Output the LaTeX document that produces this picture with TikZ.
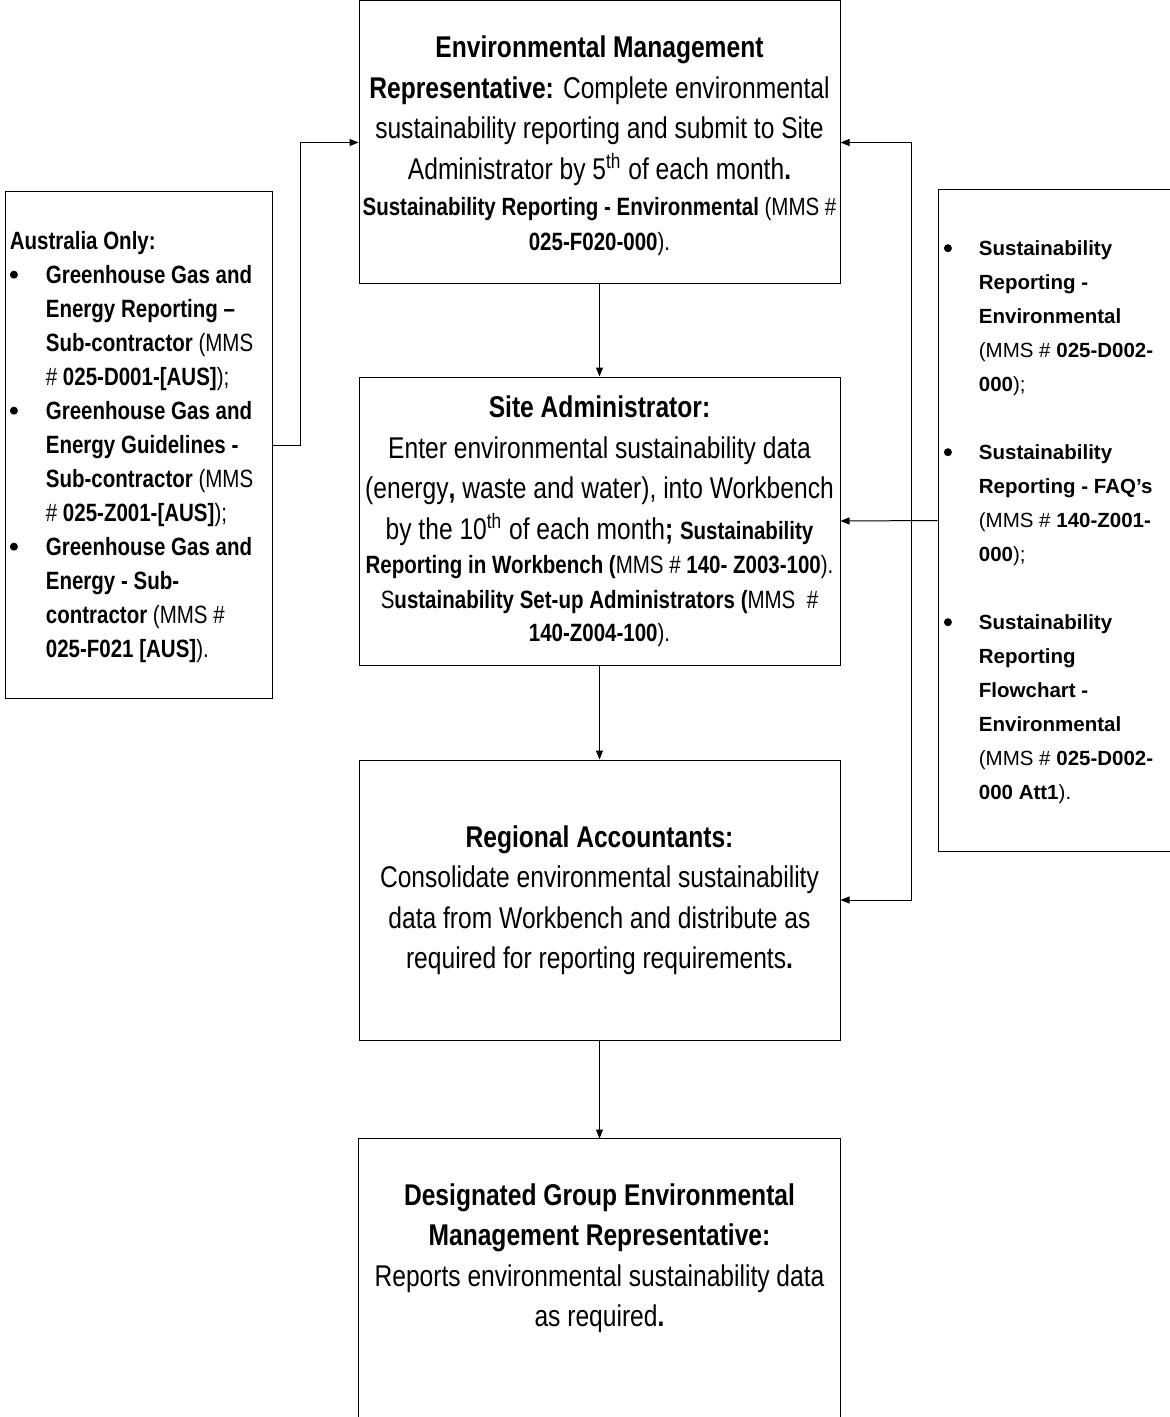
\documentclass[tikz,border=0pt]{standalone}
\usepackage{fontspec}
\setmainfont{Liberation Sans}[FakeStretch=0.82]
\newfontfamily\widefont{Liberation Sans}
\usetikzlibrary{arrows.meta}
\newcommand{\mainsz}{\fontsize{15}{20.25}\selectfont}
\newcommand{\smsz}{\fontsize{12.5}{17.5}\selectfont}
\newcommand{\bdot}[1]{\raisebox{#1}{\tikz\fill[black] (0,0) circle[radius=2pt];}}
\newcommand{\lbul}{\makebox[18pt][l]{\bdot{2.4pt}}}
\newcommand{\lind}{\hspace*{18pt}}
\newcommand{\rbul}{\makebox[16.5pt][l]{\hspace*{-1pt}\bdot{1.8pt}}}
\newcommand{\rind}{\hspace*{16.5pt}}
\begin{document}
\begin{tikzpicture}[x=0.5pt,y=-0.5pt,
  boxline/.style={draw=black, line width=0.5pt},
  mainbox/.style={boxline, align=center, minimum width=240.5pt, inner sep=0pt, font=\mainsz},
  sidebox/.style={boxline, inner sep=0pt},
  sidetext/.style={align=left, inner sep=0pt, anchor=west},
  arr/.style={line width=0.5pt, -{Triangle[length=4.5pt,width=3.5pt]}}]
\useasboundingbox (0,0) rectangle (1170,1417);

% main column
\node[mainbox, minimum height=141.5pt] (tbox) at (599.5,142.5) {%
\rule{0pt}{14pt}\textbf{Environmental Management}\\
\textbf{Representative:} Complete environmental\\
sustainability reporting and submit to Site\\
Administrator by 5\textsuperscript{th} of each month\textbf{.}\\[-2.25pt]
{\smsz\textbf{Sustainability Reporting - Environmental} (MMS \#}\\[-2.75pt]
{\smsz\textbf{025-F020-000}).}};

\node[mainbox, minimum height=144pt] (sbox) at (599.5,521) {%
\textbf{Site Administrator:}\\
Enter environmental sustainability data\\
(energy\textbf{,} waste and water), into Workbench\\
by the 10\textsuperscript{th} of each month\textbf{;} {\smsz\textbf{Sustainability}}\\[-3.25pt]
{\smsz\textbf{Reporting in Workbench (}MMS \# \textbf{140- Z003-100}).}\\[-2.75pt]
{\smsz S\textbf{ustainability Set-up Administrators (}MMS~~\#}\\[-3.75pt]
{\smsz\textbf{140-Z004-100}).}};

\node[mainbox, minimum height=140pt] (rabox) at (599.5,900) {%
\textbf{Regional Accountants:}\\
Consolidate environmental sustainability\\
data from Workbench and distribute as\\
required for reporting requirements\textbf{.}};

\node[mainbox, draw=none, minimum height=119pt] (dbox) at (599.5,1258) {%
\textbf{Designated Group Environmental}\\
\textbf{Management Representative:}\\
Reports environmental sustainability data\\
as required\textbf{.}};
\draw[boxline] (dbox.north west |- 0,1440) -- (dbox.north west) -- (dbox.north east) -- (dbox.north east |- 0,1440);

% left box
\node[sidebox, minimum width=133.5pt, minimum height=253pt] (lbox) at (138.5,445) {};
\node[sidetext, font=\fontsize{12.5}{17}\selectfont] (ltext) at ([xshift=2.5pt,yshift=-1pt]lbox.west) {%
\textbf{Australia Only:}\\
\lbul\textbf{Greenhouse Gas and}\\
\lind\textbf{Energy Reporting –}\\
\lind\textbf{Sub-contractor} (MMS\\
\lind\# \textbf{025-D001-[AUS]});\\
\lbul\textbf{Greenhouse Gas and}\\
\lind\textbf{Energy Guidelines -}\\
\lind\textbf{Sub-contractor} (MMS\\
\lind\# \textbf{025-Z001-[AUS]});\\
\lbul\textbf{Greenhouse Gas and}\\
\lind\textbf{Energy - Sub-}\\
\lind\textbf{contractor} (MMS \#\\
\lind\textbf{025-F021 [AUS]}).};

% right box
\node[sidebox, minimum width=126pt, minimum height=330.5pt] (rbox) at (1064,520.5) {};
\node[sidetext, font=\widefont\fontsize{10.25}{17}\selectfont] (rtext) at ([xshift=4pt,yshift=-1pt]rbox.west) {%
\rbul\textbf{Sustainability}\\
\rind\textbf{Reporting -}\\
\rind\textbf{Environmental}\\
\rind(MMS \# \textbf{025-D002-}\\
\rind\textbf{000});\\[17pt]
\rbul\textbf{Sustainability}\\
\rind\textbf{Reporting - FAQ’s}\\
\rind(MMS \# \textbf{140-Z001-}\\
\rind\textbf{000});\\[17pt]
\rbul\textbf{Sustainability}\\
\rind\textbf{Reporting}\\
\rind\textbf{Flowchart -}\\
\rind\textbf{Environmental}\\
\rind(MMS \# \textbf{025-D002-}\\
\rind\textbf{000 Att1}).};

% connectors
\draw[arr] (tbox.south) -- (sbox.north);
\draw[arr] (sbox.south) -- (rabox.north);
\draw[arr] (rabox.south) -- (dbox.north);

\coordinate (lj) at (300,0);
\draw[arr] (lbox.east) -| (lj |- tbox.west) -- (tbox.west);

\coordinate (rj) at (911,0);
\draw[arr] (rbox.west) -- (sbox.east);
\draw[arr] (rj |- sbox.east) |- (tbox.east);
\draw[arr] (rj |- sbox.east) |- (rabox.east);
\end{tikzpicture}
\end{document}
